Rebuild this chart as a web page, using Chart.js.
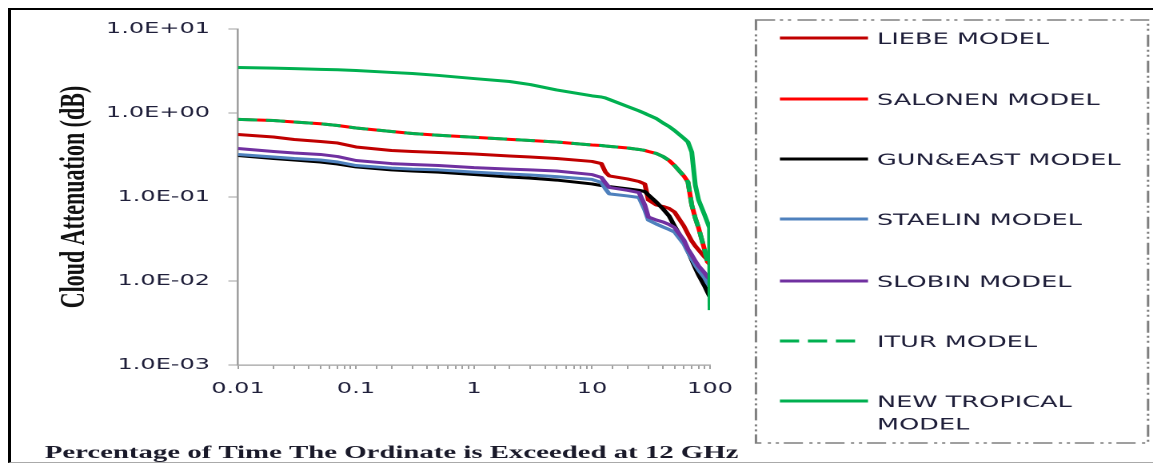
<!DOCTYPE html>
<html>
<head>
<meta charset="utf-8">
<script src="https://cdn.jsdelivr.net/npm/chart.js@4.4.0/dist/chart.umd.min.js"></script>
<style>
html,body{margin:0;padding:0;background:#fff;width:1153px;height:464px;overflow:hidden;position:relative}
#wrap{position:absolute;left:0;top:0;width:721px;height:464px;transform:scaleX(1.59917);transform-origin:0 0}
#frame{position:absolute;left:8px;top:8px;width:1160px;height:452px;border-top:2px solid #000;border-left:3px solid #000;border-bottom:1px solid #aaa;pointer-events:none}
</style>
</head>
<body>
<div id="wrap"><canvas id="c"></canvas></div>
<div id="frame"></div>
<script>
// ---- data ----
const percentTime = [0.01,0.02,0.03,0.05,0.07,0.1,0.2,0.3,0.5,1,2,3,5,10,12,13,14,20,25,28,30,35,40,45,50,60,65,70,75,80,90,95,99,100];

const liebe = [0.555,0.518,0.484,0.458,0.439,0.394,0.358,0.348,0.339,0.325,0.308,0.299,0.287,0.265,0.250,0.198,0.178,0.164,0.153,0.143,0.0921,0.0803,0.0771,0.0730,0.0663,0.0452,0.0363,0.0299,0.0261,0.0234,0.0193,0.0178,0.0166,0.0164];
const salonen = [0.841,0.814,0.781,0.744,0.710,0.663,0.602,0.570,0.543,0.514,0.486,0.471,0.452,0.416,0.410,0.405,0.401,0.383,0.368,0.358,0.348,0.330,0.303,0.272,0.237,0.178,0.151,0.0803,0.0562,0.0428,0.0234,0.0168,0.0159,0.0155];
const gunEast = [0.312,0.287,0.276,0.261,0.247,0.228,0.210,0.204,0.198,0.185,0.173,0.168,0.159,0.143,0.137,0.135,0.133,0.125,0.120,0.116,0.106,0.0872,0.0720,0.0594,0.0452,0.0291,0.0228,0.0178,0.0143,0.0118,0.0087,0.0074,0.0066,0.0065];
const staelin = [0.321,0.299,0.287,0.276,0.261,0.237,0.221,0.215,0.210,0.198,0.188,0.183,0.175,0.162,0.149,0.125,0.109,0.103,0.0987,0.0700,0.0532,0.0477,0.0439,0.0410,0.0383,0.0276,0.0221,0.0183,0.0155,0.0135,0.0109,0.0095,0.0087,0.0085];
const slobin = [0.378,0.348,0.334,0.321,0.303,0.272,0.250,0.244,0.237,0.224,0.215,0.210,0.204,0.185,0.171,0.147,0.130,0.120,0.113,0.0803,0.0578,0.0532,0.0504,0.0471,0.0434,0.0308,0.0240,0.0204,0.0173,0.0151,0.0125,0.0112,0.0106,0.0103];
const itur = [0.841,0.814,0.781,0.744,0.710,0.663,0.602,0.570,0.543,0.514,0.486,0.471,0.452,0.416,0.410,0.405,0.401,0.383,0.368,0.358,0.348,0.330,0.303,0.272,0.237,0.178,0.151,0.0803,0.0562,0.0428,0.0234,0.0168,0.0159,0.0155];
const newTropical = [3.48,3.42,3.37,3.31,3.27,3.21,3.04,2.95,2.80,2.57,2.37,2.18,1.88,1.60,1.55,1.51,1.45,1.195,1.06,0.99,0.946,0.86,0.76,0.69,0.619,0.50,0.452,0.343,0.139,0.092,0.061,0.050,0.043,0.0045];

const modelNames = [['LIEBE MODEL'],['SALONEN MODEL'],['GUN&EAST MODEL'],['STAELIN MODEL'],['SLOBIN MODEL'],['ITUR MODEL'],['NEW TROPICAL','MODEL']];
const xTickValues = [0.01,0.1,1,10,100];
const xTickLabels = ['0.01','0.1','1','10','100'];
const yTickValues = [0.001,0.01,0.1,1,10];
const yTickLabels = ['1.0E-03','1.0E-02','1.0E-01','1.0E+00','1.0E+01'];
const xTitle = 'Percentage of Time The Ordinate is Exceeded at 12 GHz';
const yTitle = 'Cloud Attenuation (dB)';

// ---- styling ----
const series = [liebe, salonen, gunEast, staelin, slobin, itur, newTropical];
const colors = ['#c00000','#ff0000','#000000','#4f81bd','#7030a0','#00b050','#00b050'];
const dashes = [[],[],[],[],[],[12,5.5],[]];
const tickFont = {family:"'DejaVu Sans', sans-serif", size:15};
const textColor = '#1f1f3a';
const axisColor = '#a0a0a0';

function labelFor(values, labels, v){
  for (let i=0;i<values.length;i++){
    if (Math.abs(Math.log10(v)-Math.log10(values[i]))<1e-6) return labels[i];
  }
  return '';
}

const datasets = series.map((vals,i)=>({
  label: modelNames[i].join(' '),
  legendLines: modelNames[i],
  data: percentTime.map((p,j)=>({x:p, y:vals[j]})),
  borderColor: colors[i],
  backgroundColor: colors[i],
  borderDash: dashes[i],
  borderWidth: 3,
  borderJoinStyle: 'round',
  borderCapStyle: 'butt',
  pointRadius: 0,
  tension: 0,
  fill: false,
  order: 10 - i
}));

const LEG = {x:472.7, y:20, w:245.2, h:423, lineX0:487.7, lineX1:542.8, textX:548.4, rows:[38,99,159,219,281,341,401], lineGap:22.5, textShift:2};

const boxLegend = {
  id:'boxLegend',
  afterDraw(chart){
    const ctx = chart.ctx;
    ctx.save();
    ctx.strokeStyle = '#7f7f7f';
    ctx.lineWidth = 1.5;
    ctx.setLineDash([12,3,2,3,2,4]);
    ctx.strokeRect(LEG.x, LEG.y, LEG.w, LEG.h);
    chart.data.datasets.forEach((ds,i)=>{
      const y = LEG.rows[i];
      ctx.setLineDash(ds.borderDash || []);
      ctx.strokeStyle = ds.borderColor;
      ctx.lineWidth = 3;
      ctx.lineCap = 'butt';
      ctx.beginPath();
      ctx.moveTo(LEG.lineX0, y);
      ctx.lineTo(ds.borderDash && ds.borderDash.length ? LEG.lineX1 - 5 : LEG.lineX1, y);
      ctx.stroke();
      ctx.setLineDash([]);
      ctx.fillStyle = textColor;
      ctx.font = "16px 'DejaVu Sans', sans-serif";
      ctx.textBaseline = 'middle';
      ctx.textAlign = 'left';
      ds.legendLines.forEach((t,j)=>ctx.fillText(t, LEG.textX, y + LEG.textShift + j*LEG.lineGap));
    });
    ctx.restore();
  }
};

new Chart(document.getElementById('c'), {
  type:'line',
  data:{datasets},
  plugins:[boxLegend],
  options:{
    responsive:true,
    maintainAspectRatio:false,
    devicePixelRatio:2,
    animation:false,
    layout:{padding:{left:28, right:0, top:29, bottom:0}},
    plugins:{
      legend:{display:false},
      tooltip:{enabled:false},
      title:{display:true, position:'bottom', align:'start', text:xTitle,
        font:{family:"'Liberation Serif', 'Times New Roman', serif", size:18, weight:'bold', lineHeight:1.2},
        color:'#1a1a2a', padding:0}
    },
    scales:{
      x:{
        type:'logarithmic', position:'bottom', min:0.01, max:100,
        border:{display:true, color:axisColor, width:1.3},
        grid:{display:true, drawOnChartArea:false, drawTicks:true, tickLength:4, tickColor:axisColor},
        ticks:{autoSkip:false, maxRotation:0, minRotation:0, padding:11, font:tickFont, color:textColor,
          callback:(v)=>labelFor(xTickValues, xTickLabels, v)},
        afterFit:(s)=>{ s.height = 464 - 365 - 21.6; }
      },
      y:{
        type:'logarithmic', position:'left', min:0.001, max:10,
        border:{display:true, color:axisColor, width:1.3},
        grid:{display:true, drawOnChartArea:false, drawTicks:true, tickLength:6, tickColor:axisColor},
        afterBuildTicks:(s)=>{ s.ticks = yTickValues.map(v=>({value:v})); },
        ticks:{padding:11.5, font:tickFont, color:textColor,
          callback:(v)=>labelFor(yTickValues, yTickLabels, v)},
        title:{display:true, text:yTitle, color:'#111',
          font:{family:"'Liberation Serif', 'Times New Roman', serif", size:22, weight:'bold', lineHeight:1.2},
          padding:{top:5.7, bottom:0}},
        afterFit:(s)=>{ s.width = 120.8; }
      },
      yRight:{
        type:'linear', position:'right', display:true,
        grid:{display:false}, border:{display:false}, ticks:{display:false},
        afterFit:(s)=>{ s.width = 277; }
      }
    }
  }
});
</script>
</body>
</html>
